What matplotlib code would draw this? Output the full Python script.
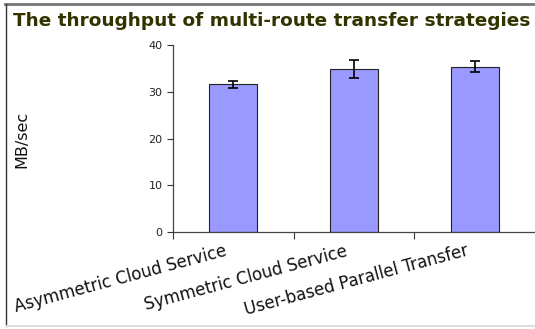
import matplotlib.pyplot as plt
from matplotlib.lines import Line2D
import numpy as np

# throughput per strategy, with error bar half-widths
strategies = ['Asymmetric Cloud Service', 'Symmetric Cloud Service',
              'User-based Parallel Transfer']
throughput = [31.6, 34.9, 35.4]
errors = [0.7, 2.0, 1.1]
yticks = [0, 10, 20, 30, 40]

fig = plt.figure(figsize=(5.35, 3.29), dpi=100)
ax = fig.add_axes([0.3234, 0.2948, 0.6766, 0.5682])

x = np.arange(len(strategies))
ax.bar(x, throughput, width=0.4, color='#9999ff', edgecolor='#222222', linewidth=0.8)
ax.errorbar(x, throughput, yerr=errors, fmt='none', ecolor='black',
            elinewidth=1.2, capsize=3.5, capthick=1.2)

ax.set_xlim(-0.5, 2.5)
ax.set_ylim(0, 40)
ax.set_yticks(yticks)
ax.set_xticks([-0.5, 0.5, 1.5])
ax.set_xticklabels([])
ax.tick_params(axis='y', labelsize=8, length=4, color='#333333', labelcolor='#222222')
ax.tick_params(axis='x', length=5, color='#333333')
for s in ['top', 'right']:
    ax.spines[s].set_visible(False)
for s in ['left', 'bottom']:
    ax.spines[s].set_color('#444444')
    ax.spines[s].set_linewidth(0.9)

# rotated category labels
for i, name in enumerate(strategies):
    ax.annotate(name, xy=(i, 0), xycoords=('data', 'axes fraction'),
                xytext=(-9, -10), textcoords='offset pixels',
                ha='right', va='top', rotation=15, rotation_mode='anchor',
                fontsize=12, color='#111111')

fig.text(0.041, 0.575, 'MB/sec', rotation=90, ha='center', va='center',
         fontsize=11.5, color='#111111')
fig.text(0.024, 0.935, 'The throughput of multi-route transfer strategies',
         ha='left', va='center', fontsize=13.3, fontweight='bold', color='#333300')

# framing lines of the picture
fig.add_artist(Line2D([5 / 535, 1], [1 - 4 / 329, 1 - 4 / 329], color='#777777', lw=2,
                      transform=fig.transFigure))
fig.add_artist(Line2D([6 / 535, 6 / 535], [1 - 4 / 329, 3 / 329], color='#333333', lw=1,
                      transform=fig.transFigure))
fig.add_artist(Line2D([6 / 535, 1], [3 / 329, 3 / 329], color='#dddddd', lw=1.5,
                      transform=fig.transFigure))

fig.savefig('out.png', dpi=100)
